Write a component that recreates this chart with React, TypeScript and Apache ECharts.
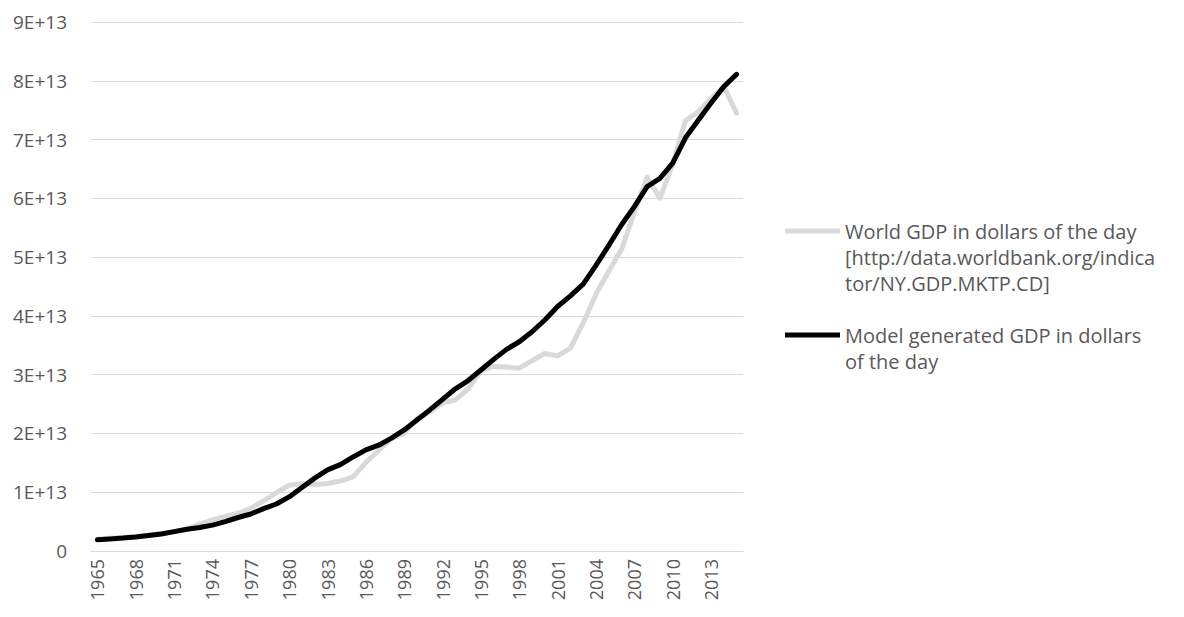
import React, { useEffect, useRef } from "react";
import * as echarts from "echarts";

// Years on the category axis
const years: string[] = [];
for (let y = 1965; y <= 2015; y++) years.push(String(y));

// World GDP, current US$, trillions
const worldGdp = [
  2.0, 2.15, 2.28, 2.46, 2.72, 2.96, 3.26, 3.77, 4.59, 5.3,
  5.9, 6.42, 7.26, 8.54, 9.93, 11.2, 11.45, 11.3, 11.5, 11.9,
  12.6, 15.05, 17.1, 19.1, 20.0, 22.5, 23.7, 25.2, 25.7, 27.6,
  30.7, 31.4, 31.3, 31.1, 32.4, 33.6, 33.2, 34.5, 38.8, 43.7,
  47.6, 51.3, 57.6, 63.6, 60.0, 65.8, 73.2, 74.7, 77.0, 79.0,
  74.5,
];

// Model generated GDP, US$, trillions
const modelGdp = [
  1.9, 2.05, 2.2, 2.4, 2.65, 2.9, 3.3, 3.7, 4.0, 4.4,
  5.0, 5.7, 6.3, 7.2, 8.0, 9.2, 10.8, 12.4, 13.8, 14.7,
  16.0, 17.2, 18.0, 19.2, 20.6, 22.3, 24.0, 25.8, 27.6, 29.0,
  30.8, 32.6, 34.3, 35.6, 37.3, 39.3, 41.6, 43.4, 45.4, 48.6,
  52.0, 55.5, 58.6, 62.0, 63.4, 66.0, 70.3, 73.3, 76.2, 79.0,
  81.1,
];

const seriesNames = [
  "World GDP in dollars of the day [http://data.worldbank.org/indicator/NY.GDP.MKTP.CD]",
  "Model generated GDP in dollars of the day",
];
const legendLines: string[][] = [
  ["World GDP in dollars of the day", "[http://data.worldbank.org/indica", "tor/NY.GDP.MKTP.CD]"],
  ["Model generated GDP in dollars", "of the day"],
];

const FONT = "Open Sans";
const TXT = "#595959";

export default function App() {
  const ref = useRef<HTMLDivElement>(null);
  useEffect(() => {
    if (!ref.current) return;
    const chart = echarts.init(ref.current, undefined, { renderer: "svg" });
    chart.setOption({
      animation: false,
      textStyle: { fontFamily: FONT, color: TXT },
      grid: { left: 91, right: 441, top: 22, bottom: 66, containLabel: false },
      xAxis: {
        type: "category",
        data: years,
        boundaryGap: true,
        axisLine: { show: true, lineStyle: { color: "#d9d9d9", width: 1 } },
        axisTick: { show: false },
        axisLabel: {
          interval: 2,
          rotate: 90,
          color: TXT,
          fontFamily: FONT,
          fontSize: 18,
          margin: 8,
        },
      },
      yAxis: {
        type: "value",
        min: 0,
        max: 9e13,
        interval: 1e13,
        axisLine: { show: false },
        axisTick: { show: false },
        splitLine: { lineStyle: { color: "#d9d9d9", width: 1 } },
        axisLabel: {
          color: TXT,
          fontFamily: FONT,
          fontSize: 19,
          margin: 24,
          formatter: (v: number) => (v === 0 ? "0" : `${Math.round(v / 1e13)}E+13`),
        },
      },
      legend: {
        orient: "vertical",
        left: 780,
        top: 161,
        padding: 5,
        itemGap: 0,
        itemWidth: 55,
        itemHeight: 5,
        icon: "rect",
        textStyle: {
          color: TXT,
          fontFamily: FONT,
          fontSize: 20,
          lineHeight: 26,
        },
        formatter: (name: string) => {
          const idx = seriesNames.indexOf(name);
          const lines = legendLines[idx];
          const blanks = new Array(lines.length - 1).fill(" ");
          return [...blanks, ...lines].join("\n");
        },
        data: seriesNames,
      },
      series: [
        {
          name: seriesNames[0],
          type: "line",
          data: worldGdp.map((v) => v * 1e12),
          symbol: "none",
          itemStyle: { color: "#d9d9d9" },
          lineStyle: { color: "#d9d9d9", width: 5, cap: "round", join: "round" },
        },
        {
          name: seriesNames[1],
          type: "line",
          data: modelGdp.map((v) => v * 1e12),
          symbol: "none",
          itemStyle: { color: "#000000" },
          lineStyle: { color: "#000000", width: 5, cap: "round", join: "round" },
        },
      ],
    });
    return () => chart.dispose();
  }, []);
  return (
    <div
      ref={ref}
      style={{ position: "fixed", left: 0, top: 0, width: 1184, height: 617, background: "#fff" }}
    />
  );
}
